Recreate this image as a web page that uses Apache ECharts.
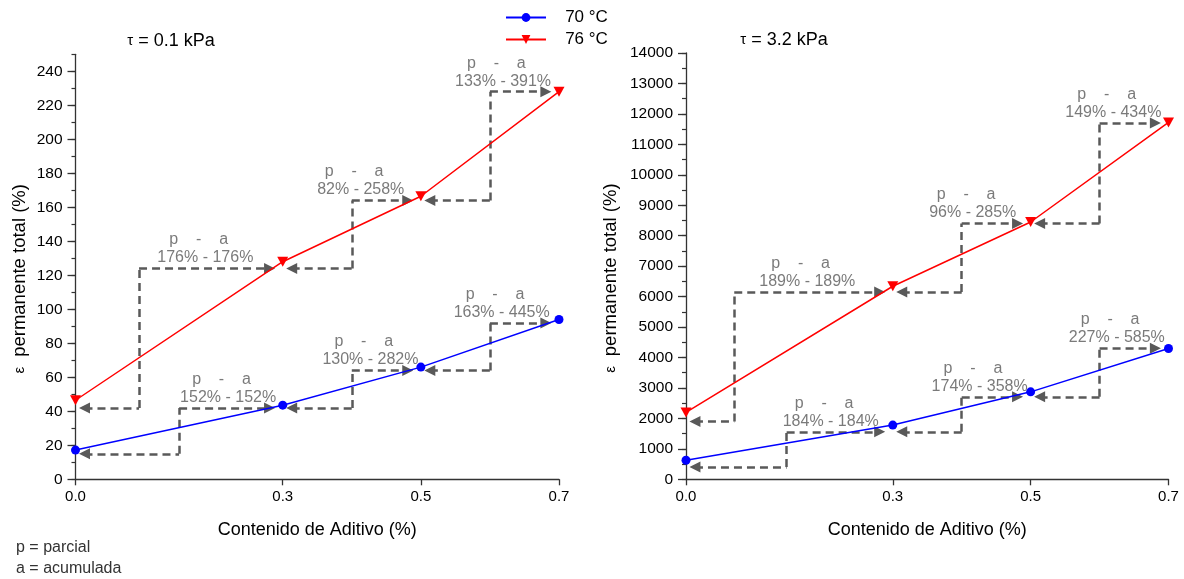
<!DOCTYPE html>
<html>
<head>
<meta charset="utf-8">
<title>Deformación permanente vs contenido de aditivo</title>
<script src="https://cdn.jsdelivr.net/npm/echarts@6/dist/echarts.min.js"></script>
<style>
  html, body { margin: 0; padding: 0; background: #ffffff; }
  #chart { width: 1184px; height: 579px; }
</style>
</head>
<body>
<div id="chart"></div>
<script>
// ---- data -------------------------------------------------------------
const additive = [0.0, 0.3, 0.5, 0.7];          // Contenido de Aditivo (%)
const xTickValues = [0.0, 0.3, 0.5, 0.7];
const seriesNames = ['70 °C', '76 °C'];

// τ = 0.1 kPa, ε permanente total (%)
const low70 = [17.2, 43.6, 66.0, 94.0];
const low76 = [46.5, 128.0, 166.5, 228.0];
// τ = 3.2 kPa, ε permanente total (%)
const high70 = [627, 1781, 2872, 4295];
const high76 = [2195, 6340, 8450, 11720];

// y tick labels
const lowTicks = [0, 20, 40, 60, 80, 100, 120, 140, 160, 180, 200, 220, 240];
const highTicks = [0, 1000, 2000, 3000, 4000, 5000, 6000, 7000, 8000, 9000, 10000, 11000, 12000, 13000, 14000];

// increments per step: p = parcial, a = acumulada
const low70Pct = [['152%', '152%'], ['130%', '282%'], ['163%', '445%']];
const low76Pct = [['176%', '176%'], ['82%', '258%'], ['133%', '391%']];
const high70Pct = [['184%', '184%'], ['174%', '358%'], ['227%', '585%']];
const high76Pct = [['189%', '189%'], ['96%', '285%'], ['149%', '434%']];

// step guides: level of each dashed arrow and x where each step turns up
const low70Levels = [15, 42, 64, 92];
const low70Turns = [0.15, 0.4, 0.6];
const low76Levels = [42, 124, 164, 228];
const low76Turns = [0.092, 0.4, 0.6];
const high70Levels = [400, 1560, 2710, 4300];
const high70Turns = [0.146, 0.4, 0.6];
const high76Levels = [1900, 6150, 8400, 11700];
const high76Turns = [0.07, 0.4, 0.6];

// x anchor (centre) of each "p - a" note
const low70NoteX = [0.221, 0.427, 0.617];
const low76NoteX = [0.188, 0.413, 0.619];
const high70NoteX = [0.21, 0.426, 0.625];
const high76NoteX = [0.176, 0.416, 0.62];

// ---- styling ----------------------------------------------------------
const FONT = "'Liberation Sans', Arial, Helvetica, sans-serif";
const AXIS_COLOR = '#333333';
const GUIDE_COLOR = '#595959';
const BLUE = '#0000ff';
const RED = '#ff0000';
const GAP_LEFT = 0.013;   // keeps arrow tips off the markers
const GAP_RIGHT = 0.019;

function pairs(xs, ys) { return xs.map((x, i) => [x, ys[i]]); }

function guideSeries(gridIdx, yIdx, xs, levels, turns) {
  const left = [], vert = [], right = [];
  for (let i = 0; i < turns.length; i++) {
    left.push({ coords: [[xs[i] + GAP_LEFT, levels[i]], [turns[i], levels[i]]] });
    vert.push({ coords: [[turns[i], levels[i]], [turns[i], levels[i + 1]]] });
    right.push({ coords: [[turns[i], levels[i + 1]], [xs[i + 1] - GAP_RIGHT, levels[i + 1]]] });
  }
  const base = {
    type: 'lines',
    coordinateSystem: 'cartesian2d',
    xAxisIndex: gridIdx,
    yAxisIndex: yIdx,
    silent: true,
    z: 2,
    symbolSize: [11, 11],
    lineStyle: { color: GUIDE_COLOR, width: 2.5, type: [8, 5], opacity: 1, curveness: 0 },
    itemStyle: { color: GUIDE_COLOR }
  };
  return [
    Object.assign({}, base, { symbol: ['triangle', 'none'], data: left }),
    Object.assign({}, base, { symbol: ['none', 'none'], data: vert }),
    Object.assign({}, base, { symbol: ['none', 'triangle'], data: right })
  ];
}

function noteSeries(gridIdx, yIdx, noteX, levels, pct) {
  return {
    type: 'scatter',
    xAxisIndex: gridIdx,
    yAxisIndex: yIdx,
    silent: true,
    z: 4,
    symbolSize: 1,
    itemStyle: { color: 'rgba(0,0,0,0)' },
    label: {
      show: true,
      position: 'top',
      distance: 1,
      color: GUIDE_COLOR,
      fontFamily: FONT,
      fontSize: 16,
      lineHeight: 18,
      align: 'center',
      formatter: p => p.name
    },
    data: noteX.map((x, i) => ({
      name: 'p    -    a   \n' + pct[i][0] + ' - ' + pct[i][1],
      value: [x, levels[i + 1]]
    }))
  };
}

function mainSeries(name, gridIdx, yIdx, ys) {
  const isRed = name === seriesNames[1];
  return {
    name: name,
    type: 'line',
    xAxisIndex: gridIdx,
    yAxisIndex: yIdx,
    z: 3,
    smooth: false,
    symbol: isRed ? 'triangle' : 'circle',
    symbolRotate: isRed ? 180 : 0,
    symbolSize: isRed ? [11, 10] : 9,
    showAllSymbol: true,
    clip: false,
    color: isRed ? RED : BLUE,
    lineStyle: { color: isRed ? RED : BLUE, width: 1.5 },
    itemStyle: { color: isRed ? RED : BLUE },
    emphasis: { disabled: true },
    data: pairs(additive, ys)
  };
}

function xAxis(gridIdx) {
  return {
    type: 'value',
    gridIndex: gridIdx,
    min: 0,
    max: 0.7,
    interval: 0.1,
    name: 'Contenido de Aditivo (%)',
    nameLocation: 'middle',
    nameGap: 42,
    nameTextStyle: { fontFamily: FONT, fontSize: 18, color: '#000' },
    axisLine: { show: true, onZero: false, lineStyle: { color: AXIS_COLOR, width: 1.3 } },
    axisTick: { show: true, customValues: xTickValues, length: 6, lineStyle: { color: AXIS_COLOR, width: 1.3 } },
    axisLabel: {
      show: true,
      customValues: xTickValues,
      margin: 10,
      fontFamily: FONT,
      fontSize: 15,
      color: '#000',
      formatter: v => v.toFixed(1)
    },
    splitLine: { show: false }
  };
}

// value axis carrying labels + short ticks
function yAxisMain(gridIdx, max, step, labels, gap) {
  return {
    type: 'value',
    gridIndex: gridIdx,
    position: 'left',
    min: 0,
    max: max,
    interval: step,
    name: '{e|ε}  {t|permanente total (%)}',
    nameLocation: 'middle',
    nameGap: gap,
    nameTextStyle: {
      fontFamily: FONT,
      fontSize: 18,
      color: '#000',
      padding: [0, 24, 0, 0],
      rich: {
        e: { fontFamily: FONT, fontSize: 15, color: '#000' },
        t: { fontFamily: FONT, fontSize: 18.5, color: '#000' }
      }
    },
    axisLine: { show: true, onZero: false, lineStyle: { color: AXIS_COLOR, width: 1.3 } },
    axisTick: { show: true, length: 4, lineStyle: { color: AXIS_COLOR, width: 1.2 } },
    axisLabel: {
      show: true,
      customValues: labels,
      margin: 13,
      fontFamily: FONT,
      fontSize: 15.5,
      color: '#000',
      formatter: v => String(v)
    },
    splitLine: { show: false }
  };
}

// overlay axis that only draws the longer major ticks
function yAxisMajor(gridIdx, max, step, labels) {
  return {
    type: 'value',
    gridIndex: gridIdx,
    position: 'left',
    min: 0,
    max: max,
    interval: step,
    axisLine: { show: false },
    axisTick: { show: true, customValues: labels, length: 8, lineStyle: { color: AXIS_COLOR, width: 1.3 } },
    axisLabel: { show: false },
    splitLine: { show: false }
  };
}

function titleText(x, y, text) {
  return {
    type: 'text', x: x, y: y, silent: true,
    style: {
      text: text, fontFamily: FONT, fontSize: 18, fill: '#000',
      align: 'center', verticalAlign: 'middle',
      rich: { s: { fontFamily: FONT, fontSize: 15, fill: '#000' } }
    }
  };
}

const chart = echarts.init(document.getElementById('chart'), null, { renderer: 'canvas' });

const option = {
  backgroundColor: '#ffffff',
  animation: false,
  textStyle: { fontFamily: FONT },
  legend: {
    data: seriesNames,
    orient: 'vertical',
    left: 500,
    top: 4,
    itemWidth: 40,
    itemHeight: 11,
    itemGap: 5,
    selectedMode: false,
    formatter: n => '   ' + n,
    textStyle: { fontFamily: FONT, fontSize: 17, color: '#000' }
  },
  grid: [
    { left: 75.5, right: 625, top: 54.3, bottom: 99.7, outerBoundsMode: 'none' },
    { left: 686, right: 15.5, top: 53, bottom: 99.7, outerBoundsMode: 'none' }
  ],
  xAxis: [xAxis(0), xAxis(1)],
  yAxis: [
    yAxisMain(0, 250, 10, lowTicks, 46),
    yAxisMajor(0, 250, 10, lowTicks),
    yAxisMain(1, 14000, 500, highTicks, 66),
    yAxisMajor(1, 14000, 500, highTicks)
  ],
  graphic: [
    titleText(171, 41, '{s|τ} = 0.1 kPa'),
    titleText(784, 40, '{s|τ} = 3.2 kPa'),
    {
      type: 'text', x: 16, y: 548, silent: true,
      style: { text: 'p = parcial', fontFamily: FONT, fontSize: 16, fill: '#333', align: 'left', verticalAlign: 'middle' }
    },
    {
      type: 'text', x: 16, y: 569, silent: true,
      style: { text: 'a = acumulada', fontFamily: FONT, fontSize: 16, fill: '#333', align: 'left', verticalAlign: 'middle' }
    }
  ],
  series: [
    mainSeries(seriesNames[0], 0, 0, low70),
    mainSeries(seriesNames[1], 0, 0, low76),
    mainSeries(seriesNames[0], 1, 2, high70),
    mainSeries(seriesNames[1], 1, 2, high76),
    ...guideSeries(0, 0, additive, low70Levels, low70Turns),
    ...guideSeries(0, 0, additive, low76Levels, low76Turns),
    ...guideSeries(1, 2, additive, high70Levels, high70Turns),
    ...guideSeries(1, 2, additive, high76Levels, high76Turns),
    noteSeries(0, 0, low70NoteX, low70Levels, low70Pct),
    noteSeries(0, 0, low76NoteX, low76Levels, low76Pct),
    noteSeries(1, 2, high70NoteX, high70Levels, high70Pct),
    noteSeries(1, 2, high76NoteX, high76Levels, high76Pct)
  ]
};

chart.setOption(option);
</script>
</body>
</html>
